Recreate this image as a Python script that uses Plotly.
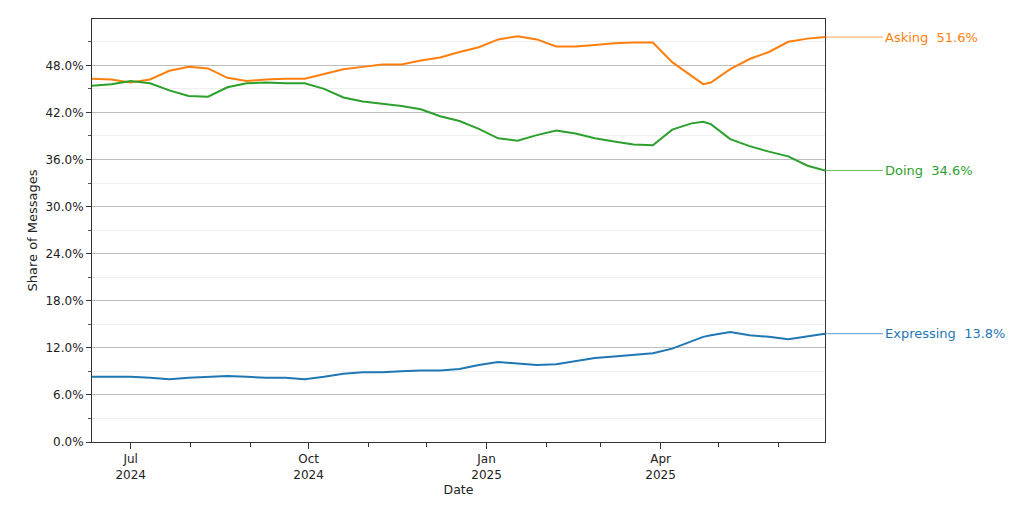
import plotly.graph_objects as go

# dates (roughly every 10 days) and shares, in percent
dates = [
    "2024-06-11", "2024-06-21", "2024-07-01", "2024-07-11", "2024-07-21", "2024-07-31",
    "2024-08-10", "2024-08-20", "2024-08-30", "2024-09-09", "2024-09-19", "2024-09-29",
    "2024-10-09", "2024-10-19", "2024-10-29", "2024-11-08", "2024-11-18", "2024-11-28",
    "2024-12-08", "2024-12-18", "2024-12-28", "2025-01-07", "2025-01-17", "2025-01-27",
    "2025-02-06", "2025-02-16", "2025-02-26", "2025-03-08", "2025-03-18", "2025-03-28",
    "2025-04-07", "2025-04-17", "2025-04-23", "2025-04-27", "2025-05-07", "2025-05-17",
    "2025-05-27", "2025-06-06", "2025-06-16", "2025-06-25",
]
asking = [
    46.3, 46.2, 45.8, 46.2, 47.3, 47.8, 47.6, 46.4, 46.0, 46.2, 46.3, 46.3,
    46.9, 47.5, 47.8, 48.1, 48.1, 48.6, 49.0, 49.7, 50.3, 51.3, 51.7, 51.3,
    50.4, 50.4, 50.6, 50.8, 50.9, 50.9, 48.4, 46.6, 45.6, 45.8, 47.5, 48.8,
    49.7, 51.0, 51.4, 51.6,
]
doing = [
    45.4, 45.6, 46.0, 45.7, 44.8, 44.1, 44.0, 45.2, 45.7, 45.8, 45.7, 45.7,
    45.0, 43.9, 43.4, 43.1, 42.8, 42.4, 41.5, 40.9, 39.9, 38.7, 38.4, 39.1,
    39.7, 39.3, 38.7, 38.3, 37.9, 37.8, 39.8, 40.6, 40.8, 40.5, 38.6, 37.7,
    37.0, 36.4, 35.2, 34.6,
]
expressing = [
    8.3, 8.3, 8.3, 8.2, 8.0, 8.2, 8.3, 8.4, 8.3, 8.2, 8.2, 8.0,
    8.3, 8.7, 8.9, 8.9, 9.0, 9.1, 9.1, 9.3, 9.8, 10.2, 10.0, 9.8,
    9.9, 10.3, 10.7, 10.9, 11.1, 11.3, 11.9, 12.9, 13.4, 13.6, 14.0, 13.6,
    13.4, 13.1, 13.5, 13.8,
]

series = [
    ("Asking", asking, "#ff7f0e"),
    ("Doing", doing, "#2ca02c"),
    ("Expressing", expressing, "#1f77b4"),
]

major_ticks = ["2024-07-01", "2024-10-01", "2025-01-01", "2025-04-01"]
major_labels = ["Jul<br>2024", "Oct<br>2024", "Jan<br>2025", "Apr<br>2025"]

FONT = "DejaVu Sans"
label_x = 1.079  # where the end labels sit, in paper units

fig = go.Figure()
for name, vals, col in series:
    fig.add_trace(go.Scatter(
        x=dates, y=[v / 100 for v in vals], mode="lines", name=name,
        line=dict(color=col, width=2), showlegend=False,
    ))
    last = vals[-1] / 100
    fig.add_shape(type="line", xref="paper", yref="y", x0=1, x1=label_x,
                  y0=last, y1=last, line=dict(color=col, width=1), opacity=0.7)
    fig.add_annotation(xref="paper", yref="y", x=label_x, y=last,
                       text=f"{name}  {vals[-1]:.1f}%", showarrow=False,
                       xanchor="left", yanchor="middle",
                       font=dict(family=FONT, size=13, color=col))

# the page body adds ~7px offset, so margins are trimmed to match
fig.update_layout(
    width=1024, height=508,
    margin=dict(l=84, r=207, t=11, b=74),
    plot_bgcolor="white", paper_bgcolor="white",
    font=dict(family=FONT, size=12, color="#222"),
)
fig.update_xaxes(
    range=["2024-06-11", "2025-06-25"],
    tickvals=major_ticks, ticktext=major_labels,
    ticks="outside", ticklen=6, tickcolor="#333",
    showgrid=False, showline=True, linecolor="#333", linewidth=1, mirror=True,
    minor=dict(ticks="outside", ticklen=4, tickcolor="#333",
               dtick="M1", tick0="2024-07-01", showgrid=False),
    title=dict(text="Date", standoff=4, font=dict(size=12.5)),
)
fig.update_yaxes(
    range=[0, 0.539], dtick=0.06, tick0=0, tickformat=".1%",
    ticks="outside", ticklen=5, tickcolor="#333",
    showgrid=True, gridcolor="#bdbdbd", gridwidth=1,
    showline=True, linecolor="#333", linewidth=1, mirror=True, zeroline=False,
    minor=dict(ticks="outside", ticklen=3, tickcolor="#555", dtick=0.03,
               showgrid=True, gridcolor="#efefef", gridwidth=1),
    title=dict(text="Share of Messages", standoff=4, font=dict(size=13)),
)

fig.write_html("out.html")
